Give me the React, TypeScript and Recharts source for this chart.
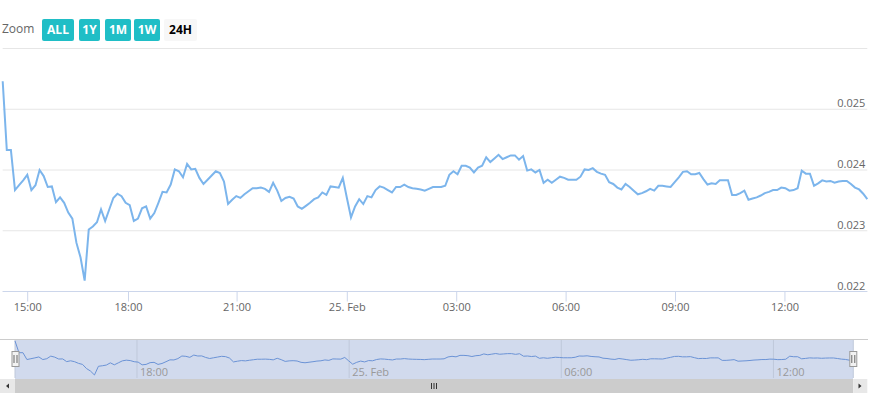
import React from 'react';
import { LineChart, Line, XAxis, YAxis, CartesianGrid } from 'recharts';

// price per step (ordinal axis, one step per sample)
const prices = [
  0.02546, 0.02433, 0.02433, 0.02367, 0.02375, 0.02383, 0.02392, 0.02367, 0.02375, 0.024,
  0.0239, 0.02372, 0.02373, 0.02347, 0.02355, 0.02346, 0.0233, 0.0232, 0.0228, 0.02256,
  0.02218, 0.02302, 0.02307, 0.02314, 0.02335, 0.02316, 0.02335, 0.02354, 0.02361, 0.02357,
  0.02346, 0.02342, 0.02316, 0.0232, 0.02337, 0.0234, 0.0232, 0.02329, 0.02346, 0.02364,
  0.02363, 0.02376, 0.02401, 0.02398, 0.02388, 0.0241, 0.02401, 0.02402, 0.02387, 0.02377,
  0.02384, 0.02391, 0.02398, 0.02395, 0.02381, 0.02344, 0.02351, 0.02357, 0.02354, 0.0236,
  0.02365, 0.0237, 0.0237, 0.02371, 0.02369, 0.02364, 0.02379, 0.02366, 0.02349, 0.02354,
  0.02356, 0.02353, 0.0234, 0.02336, 0.02341, 0.02346, 0.02352, 0.02355, 0.02363, 0.02359,
  0.02373, 0.02372, 0.02371, 0.02387, 0.02354, 0.02322, 0.0234, 0.02352, 0.02344, 0.02357,
  0.02355, 0.02367, 0.02373, 0.02371, 0.02367, 0.02363, 0.02372, 0.02372, 0.02376, 0.02372,
  0.0237, 0.02369, 0.02368, 0.02366, 0.02369, 0.02372, 0.02372, 0.02372, 0.02374, 0.02392,
  0.02398, 0.02393, 0.02407, 0.02407, 0.02404, 0.02396, 0.02404, 0.02407, 0.02421, 0.02413,
  0.02419, 0.02425, 0.02418, 0.02421, 0.02424, 0.02424, 0.02417, 0.02423, 0.02399, 0.02401,
  0.02396, 0.024, 0.02379, 0.02384, 0.02379, 0.02384, 0.02389, 0.02387, 0.02384, 0.02384,
  0.02384, 0.02389, 0.02401, 0.024, 0.02403, 0.02397, 0.02394, 0.02392, 0.0238, 0.02377,
  0.02371, 0.02368, 0.02377, 0.02372, 0.02366, 0.0236, 0.02362, 0.02365, 0.02369, 0.02366,
  0.02374, 0.02374, 0.02373, 0.02372, 0.0238, 0.02388, 0.02397, 0.02398, 0.02393, 0.02393,
  0.02395, 0.02385, 0.02376, 0.02378, 0.02377, 0.02383, 0.02383, 0.02383, 0.02359, 0.02359,
  0.02362, 0.02366, 0.02351, 0.02353, 0.02355, 0.02358, 0.02362, 0.02364, 0.02367, 0.02367,
  0.02371, 0.0237, 0.02366, 0.02367, 0.0237, 0.02399, 0.02394, 0.02394, 0.02374, 0.02378,
  0.02383, 0.02381, 0.02382, 0.02379, 0.02381, 0.02382, 0.02382, 0.02377, 0.02371, 0.02368,
  0.02361, 0.02352,
];

const mainTicks = [6.1, 30.7, 57.2, 84.1, 110.8, 137.5, 164.2, 190.9];
const mainTickLabels = ['15:00', '18:00', '21:00', '25. Feb', '03:00', '06:00', '09:00', '12:00'];
const navTicks = [30.7, 84.1, 137.5, 190.9];
const navTickLabels = ['18:00', '25. Feb', '06:00', '12:00'];
const yTicks = [0.022, 0.023, 0.024, 0.025, 0.026];
const zoomButtons = ['ALL', '1Y', '1M', '1W', '24H'];

const FONT = '"Open Sans", "Liberation Sans", Arial, sans-serif';

const data = prices.map((p, i) => ({ i, p }));
const last = prices.length - 1;

const btnBoxes = [
  { left: 42, width: 32 },
  { left: 79, width: 21 },
  { left: 105, width: 26 },
  { left: 134, width: 26 },
  { left: 164, width: 33 },
];

function PriceTick(props: any) {
  const { x, y, payload } = props;
  if (payload.value > 0.0255) return <g />;
  return (
    <text x={x - 2} y={y - 2} textAnchor="end" fill="#666" fontSize={11} fontFamily={FONT}>
      {payload.value.toFixed(3)}
    </text>
  );
}

function NavTick(props: any) {
  const { x, y, payload } = props;
  const k = navTicks.indexOf(payload.value);
  return (
    <text x={x + 3} y={y - 2.5} textAnchor="start" fill="#999" fontSize={11} fontFamily={FONT}>
      {navTickLabels[k]}
    </text>
  );
}

export default function App() {
  return (
    <div style={{ position: 'absolute', left: 0, top: 0, width: 872, height: 401, background: '#fff', fontFamily: FONT }}>
      {/* range selector */}
      <div style={{ position: 'absolute', left: 2, top: 21, fontSize: 12, lineHeight: '16px', color: '#666' }}>Zoom</div>
      {zoomButtons.map((b, k) => {
        const active = b !== '24H';
        return (
          <div
            key={b}
            style={{
              position: 'absolute',
              left: btnBoxes[k].left,
              top: 19,
              width: btnBoxes[k].width,
              height: 22,
              lineHeight: '22px',
              borderRadius: 2,
              background: active ? '#20bec6' : '#f7f7f7',
              color: active ? '#fff' : '#000',
              fontWeight: 700,
              fontSize: 12,
              textAlign: 'center',
            }}
          >
            {b}
          </div>
        );
      })}

      {/* main chart */}
      <div style={{ position: 'absolute', left: 0, top: 0 }}>
        <LineChart width={872} height={320} data={data} margin={{ top: 48.5, right: 3.7, bottom: 8.5, left: 2.7 }}>
          <CartesianGrid vertical={false} stroke="#e6e6e6" />
          <XAxis
            dataKey="i"
            type="number"
            domain={[0, last]}
            ticks={mainTicks}
            interval={0}
            height={20}
            tickSize={10}
            tickMargin={2}
            stroke="#ccd6eb"
            tick={{ fill: '#666', fontSize: 11, fontFamily: FONT }}
            tickFormatter={(v: number) => mainTickLabels[mainTicks.indexOf(v)]}
          />
          <YAxis
            orientation="right"
            width={1}
            domain={[0.022, 0.026]}
            ticks={yTicks}
            interval={0}
            axisLine={false}
            tickLine={false}
            tickSize={0}
            tickMargin={0}
            tick={(p: any) => <PriceTick {...p} />}
          />
          <Line type="linear" dataKey="p" stroke="#7cb5ec" strokeWidth={2} dot={false} isAnimationActive={false} />
        </LineChart>
      </div>

      {/* navigator mask */}
      <div style={{ position: 'absolute', left: 15, top: 339, width: 838.3, height: 40, background: '#d1daed' }} />
      <div style={{ position: 'absolute', left: 0, top: 339 }}>
        <LineChart width={872} height={40} data={data} margin={{ top: 0, right: 18.7, bottom: 0, left: 15 }}>
          <CartesianGrid horizontal={false} stroke="#bfc8da" />
          <XAxis
            dataKey="i"
            type="number"
            domain={[0, last]}
            ticks={navTicks}
            interval={0}
            height={1}
            axisLine={false}
            tickLine={false}
            tickSize={0}
            tickMargin={0}
            tick={(p: any) => <NavTick {...p} />}
          />
          <YAxis hide domain={[0.02189, 0.02565]} />
          <Line type="linear" dataKey="p" stroke="#6b93d6" strokeWidth={1} dot={false} isAnimationActive={false} />
        </LineChart>
      </div>

      {/* navigator outline, handles and scrollbar */}
      <svg width={872} height={401} style={{ position: 'absolute', left: 0, top: 0, pointerEvents: 'none' }}>
        <line x1={0} x2={868} y1={339.5} y2={339.5} stroke="#cccccc" />
        {[15.5, 853.3].map((hx) => (
          <g key={hx}>
            <rect x={hx - 3.5} y={351.5} width={7} height={15} fill="#f2f2f2" stroke="#999" />
            <line x1={hx - 1.5} x2={hx - 1.5} y1={355} y2={363} stroke="#666" />
            <line x1={hx + 1.5} x2={hx + 1.5} y1={355} y2={363} stroke="#666" />
          </g>
        ))}
        <rect x={0} y={379} width={15} height={14} fill="#e8e8e8" />
        <rect x={15} y={379} width={838.3} height={14} fill="#cccccc" />
        <rect x={853.3} y={379} width={14} height={14} fill="#e8e8e8" />
        <path d="M9 383.5 L6 386 L9 388.5 Z" fill="#333" />
        <path d="M858.5 383.5 L861.5 386 L858.5 388.5 Z" fill="#333" />
        {[431.5, 434, 436.5].map((gx) => (
          <line key={gx} x1={gx} x2={gx} y1={383} y2={389} stroke="#333" />
        ))}
      </svg>
    </div>
  );
}
